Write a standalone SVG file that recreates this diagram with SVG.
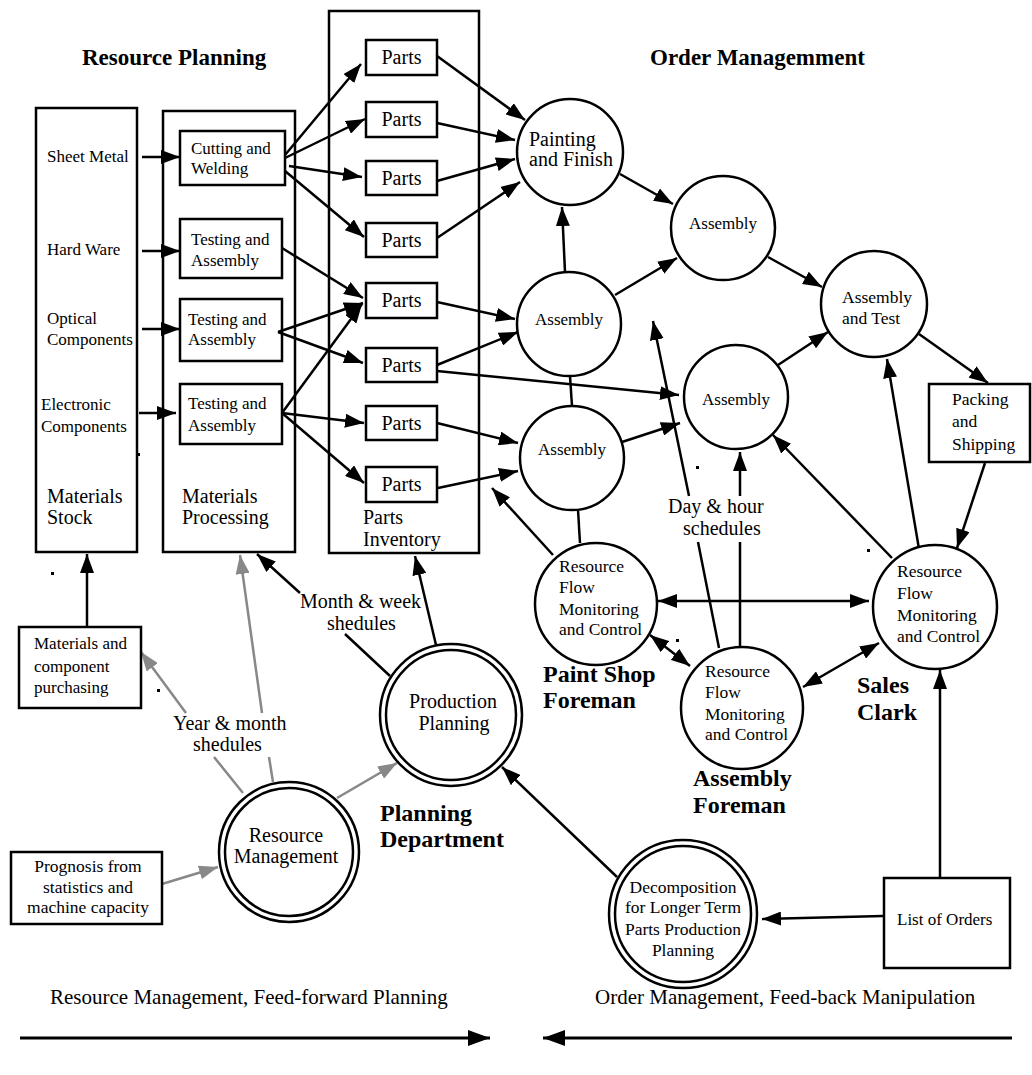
<svg xmlns="http://www.w3.org/2000/svg" width="1032" height="1075" viewBox="0 0 1032 1075">
<style>
text{font-family:"Liberation Serif","Times New Roman",serif;fill:#000}
.t20{font-size:20px}
.t17{font-size:17px}
.t175{font-size:17.5px}
.b{font-weight:bold;font-size:24px}
.h{font-weight:bold;font-size:23px}
.m{text-anchor:middle}
.box{fill:#fff;stroke:#000;stroke-width:2.5}
.cont{fill:none;stroke:#000;stroke-width:2.5}
.c{fill:#fff;stroke:#000;stroke-width:2.5}
.a{marker-end:url(#ah)}
.d{marker-start:url(#ah);marker-end:url(#ah)}
.g{stroke:#888;marker-end:url(#ahg)}
.dot{fill:#000}
</style>
<defs>
<marker id="ah" markerUnits="userSpaceOnUse" markerWidth="20" markerHeight="14" refX="19" refY="7" orient="auto-start-reverse"><path d="M0,0 L19,7 L0,14 z" fill="#000"/></marker>
<marker id="ahg" markerUnits="userSpaceOnUse" markerWidth="20" markerHeight="14" refX="19" refY="7" orient="auto"><path d="M0,0 L19,7 L0,14 z" fill="#888"/></marker>
<marker id="ahb" markerUnits="userSpaceOnUse" markerWidth="24" markerHeight="16" refX="22" refY="8" orient="auto"><path d="M0,0 L22,8 L0,16 z" fill="#000"/></marker>
</defs>
<rect width="1032" height="1075" fill="#fff"/>

<text class="h" x="82" y="65">Resource Planning</text>
<text class="h" x="650" y="65">Order Managemment</text>

<g id="materials-stock">
<rect class="cont" x="36" y="108" width="101" height="444"/>
<text class="t17" x="47" y="162">Sheet Metal</text>
<text class="t17" x="47" y="255">Hard Ware</text>
<text class="t17" x="47" y="324">Optical</text>
<text class="t17" x="47" y="345">Components</text>
<text class="t17" x="41" y="410">Electronic</text>
<text class="t17" x="41" y="432">Components</text>
<text class="t20" x="47" y="503">Materials</text>
<text class="t20" x="47" y="524">Stock</text>
</g>
<g id="materials-processing">
<rect class="cont" x="163" y="111" width="132" height="441"/>
<text class="t20" x="182" y="503">Materials</text>
<text class="t20" x="182" y="524">Processing</text>
</g>
<g id="parts-inventory">
<rect class="cont" x="329" y="11" width="150" height="542"/>
<text class="t20" x="363" y="524">Parts</text>
<text class="t20" x="363" y="546">Inventory</text>
</g>

<g id="cutting-welding"><rect class="box" x="180" y="131" width="105" height="54"/><text class="t17" x="191" y="154">Cutting and</text><text class="t17" x="191" y="174">Welding</text></g>
<g id="testing-1"><rect class="box" x="180" y="219" width="102" height="59"/><text class="t17" x="191" y="245">Testing and</text><text class="t17" x="191" y="266">Assembly</text></g>
<g id="testing-2"><rect class="box" x="180" y="299" width="102" height="62"/><text class="t17" x="188" y="325">Testing and</text><text class="t17" x="188" y="345">Assembly</text></g>
<g id="testing-3"><rect class="box" x="180" y="384" width="102" height="60"/><text class="t17" x="188" y="409">Testing and</text><text class="t17" x="188" y="431">Assembly</text></g>

<g id="parts-1"><rect class="box" x="366" y="40" width="71" height="35"/><text class="t20 m" x="401.5" y="64">Parts</text></g>
<g id="parts-2"><rect class="box" x="366" y="102" width="71" height="35"/><text class="t20 m" x="401.5" y="126">Parts</text></g>
<g id="parts-3"><rect class="box" x="366" y="161" width="71" height="34"/><text class="t20 m" x="401.5" y="185">Parts</text></g>
<g id="parts-4"><rect class="box" x="366" y="223" width="71" height="34"/><text class="t20 m" x="401.5" y="247">Parts</text></g>
<g id="parts-5"><rect class="box" x="366" y="283" width="71" height="35"/><text class="t20 m" x="401.5" y="307">Parts</text></g>
<g id="parts-6"><rect class="box" x="366" y="348" width="71" height="34"/><text class="t20 m" x="401.5" y="372">Parts</text></g>
<g id="parts-7"><rect class="box" x="366" y="406" width="71" height="34"/><text class="t20 m" x="401.5" y="430">Parts</text></g>
<g id="parts-8"><rect class="box" x="366" y="467" width="71" height="35"/><text class="t20 m" x="401.5" y="491">Parts</text></g>

<g id="connectors" fill="none" stroke="#000" stroke-width="2.5">
<path class="a" d="M142,157 L180,157"/>
<path class="a" d="M142,251 L180,251"/>
<path class="a" d="M142,329 L180,329"/>
<path class="a" d="M139,413 L176,413"/>
<path class="a" d="M285,155 L361,64"/>
<path class="a" d="M285,158 L365,119"/>
<path class="a" d="M289,166 L362,177"/>
<path class="a" d="M285,171 L364,237"/>
<path class="a" d="M282,248 L363,298"/>
<path class="a" d="M278,332 L363,303"/>
<path class="a" d="M278,332 L363,363"/>
<path class="a" d="M282,413 L362,304"/>
<path class="a" d="M282,413 L364,423"/>
<path class="a" d="M282,413 L364,483"/>
<path class="a" d="M437,56 L525,120"/>
<path class="a" d="M437,123 L515,140"/>
<path class="a" d="M437,181 L515,159"/>
<path class="a" d="M437,238 L520,182"/>
<path class="a" d="M437,302 L515,319"/>
<path class="a" d="M437,365 L518,332"/>
<path class="a" d="M437,371 L679,395"/>
<path class="a" d="M437,423 L518,443"/>
<path class="a" d="M438,488 L518,471"/>
<path class="a" d="M565,272 L562,207"/>
<path class="a" d="M615,295 L677,258"/>
<path class="a" d="M620,174 L673,204"/>
<path class="a" d="M768,257 L822,287"/>
<path class="a" d="M778,365 L828,332"/>
<path class="a" d="M919,334 L988,383"/>
<path class="a" d="M985,463 L957,548"/>
<path d="M570,376 L572,406"/>
<path d="M578,510 L580,543"/>
<path class="a" d="M622,442 L680,423"/>
<path class="a" d="M553,555 L492,488"/>
<path class="a" d="M719,648 L698,542 M689,496 L653,321"/>
<path class="a" d="M740,646 L740,542 M740,496 L740,452"/>
<path class="a" d="M892,558 L773,435"/>
<path class="a" d="M919,549 L887,359"/>
<path class="d" d="M658,601 L869,601"/>
<path class="d" d="M650,635 L690,666"/>
<path class="d" d="M803,687 L879,643"/>
<path class="a" d="M940,878 L940,670"/>
<path class="a" d="M883,916 L762,919"/>
<path class="a" d="M617,877 L502,767"/>
<path class="a" d="M436,645 L415,556"/>
<path class="a" d="M390,676 L345,634 M300,593 L257,554"/>
<path class="g" d="M273,782 L269,757 M262,713 L240,555"/>
<path class="g" d="M243,793 L214,757 M186,713 L141,652"/>
<path class="g" d="M337,798 L397,763"/>
<path class="g" d="M162,884 L218,867"/>
<path class="a" d="M87,627 L87,554"/>
<path stroke-width="3" marker-end="url(#ahb)" d="M20,1038 L490,1038"/>
<path stroke-width="3" marker-end="url(#ahb)" d="M1012,1038 L543,1038"/>
</g>

<g id="painting"><circle class="c" cx="570" cy="152" r="53"/><text class="t20" x="529" y="146">Painting</text><text class="t20" x="529" y="166">and Finish</text></g>
<g id="assembly-top"><circle class="c" cx="723" cy="228" r="52"/><text class="t17 m" x="723" y="229">Assembly</text></g>
<g id="assembly-test"><circle class="c" cx="874" cy="304" r="53"/><text class="t175" x="842" y="303">Assembly</text><text class="t175" x="842" y="324">and Test</text></g>
<g id="assembly-right"><circle class="c" cx="736" cy="397" r="52"/><text class="t17 m" x="736" y="405">Assembly</text></g>
<g id="assembly-1"><circle class="c" cx="569" cy="324" r="52"/><text class="t17 m" x="569" y="325">Assembly</text></g>
<g id="assembly-2"><circle class="c" cx="572" cy="458" r="52"/><text class="t17 m" x="572" y="455">Assembly</text></g>
<g id="packing"><rect class="box" x="929" y="384" width="101" height="78"/><text class="t175" x="952" y="405">Packing</text><text class="t175" x="952" y="427">and</text><text class="t175" x="952" y="450">Shipping</text></g>

<g id="rfmc-paint"><circle class="c" cx="596" cy="604" r="61"/><text class="t175" x="559" y="572">Resource</text><text class="t175" x="559" y="593">Flow</text><text class="t175" x="559" y="615">Monitoring</text><text class="t175" x="559" y="635">and Control</text></g>
<g id="rfmc-assembly"><circle class="c" cx="742" cy="708" r="61"/><text class="t175" x="705" y="677">Resource</text><text class="t175" x="705" y="698">Flow</text><text class="t175" x="705" y="720">Monitoring</text><text class="t175" x="705" y="740">and Control</text></g>
<g id="rfmc-sales"><circle class="c" cx="935" cy="607" r="62"/><text class="t175" x="897" y="577">Resource</text><text class="t175" x="897" y="599">Flow</text><text class="t175" x="897" y="621">Monitoring</text><text class="t175" x="897" y="642">and Control</text></g>

<g id="label-paint"><text class="b" x="543" y="682">Paint Shop</text><text class="b" x="543" y="708">Foreman</text></g>
<g id="label-assembly"><text class="b" x="693" y="786">Assembly</text><text class="b" x="693" y="813">Foreman</text></g>
<g id="label-sales"><text class="b" x="857" y="693">Sales</text><text class="b" x="857" y="720">Clark</text></g>
<g id="label-planning"><text class="b" x="380" y="821">Planning</text><text class="b" x="380" y="847">Department</text></g>

<g id="production-planning"><circle class="c" cx="451" cy="715" r="71"/><circle class="c" cx="451" cy="715" r="65"/><text class="t20 m" x="453" y="708">Production</text><text class="t20 m" x="454" y="730">Planning</text></g>
<g id="resource-management"><circle class="c" cx="289" cy="852" r="70"/><circle class="c" cx="289" cy="852" r="64"/><text class="t20 m" x="286" y="842">Resource</text><text class="t20 m" x="286" y="863">Management</text></g>
<g id="decomposition"><circle class="c" cx="683" cy="914" r="74"/><circle class="c" cx="683" cy="914" r="68"/><text class="t175 m" x="683" y="893">Decomposition</text><text class="t175 m" x="683" y="913">for Longer Term</text><text class="t175 m" x="683" y="935">Parts Production</text><text class="t175 m" x="683" y="956">Planning</text></g>
<g id="list-orders"><rect class="box" x="884" y="878" width="126" height="90"/><text class="t17" x="897" y="925">List of Orders</text></g>
<g id="purchasing"><rect class="box" x="19" y="627" width="122" height="81"/><text class="t17" x="34" y="649">Materials and</text><text class="t17" x="34" y="672">component</text><text class="t17" x="34" y="693">purchasing</text></g>
<g id="prognosis"><rect class="box" x="11" y="852" width="151" height="72"/><text class="t175 m" x="88" y="872">Prognosis from</text><text class="t175 m" x="88" y="893">statistics and</text><text class="t175 m" x="88" y="913">machine capacity</text></g>

<g id="labels">
<text class="t20" x="173" y="730">Year &amp; month</text><text class="t20" x="193" y="751">shedules</text>
<text class="t20" x="300" y="608">Month &amp; week</text><text class="t20" x="327" y="630">shedules</text>
<text class="t20" x="668" y="513">Day &amp; hour</text><text class="t20" x="683" y="535">schedules</text>
<text style="font-size:21px" x="50" y="1004">Resource Management, Feed-forward Planning</text>
<text style="font-size:21px" x="595" y="1004">Order Management, Feed-back Manipulation</text>
</g>
<g id="specks">
<rect class="dot" x="51" y="572" width="3" height="3"/>
<rect class="dot" x="137" y="453" width="3" height="3"/>
<rect class="dot" x="157" y="689" width="3" height="3"/>
<rect class="dot" x="696" y="466" width="3" height="3"/>
<rect class="dot" x="867" y="549" width="3" height="3"/>
<rect class="dot" x="676" y="639" width="3" height="3"/>
</g>
</svg>
